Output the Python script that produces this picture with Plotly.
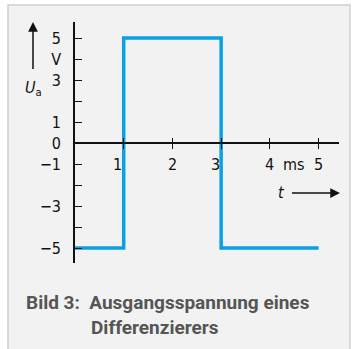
import plotly.graph_objects as go

# Data
t_ms = [0, 1, 3, 5]
u_a = [-5, 5, -5, -5]

x_tickvals = [1, 2, 3, 4, 5]
x_ticktext = ["1", "2", "3", "4", "5"]
x_label_shift = [-6, 0, -6, 0, 0]

y_tickvals = [-5, -3, -1, 0, 1, 3, 4, 5]
y_ticktext = ["\u22125", "\u22123", "\u22121", "0", "1", "3", "V", "5"]
y_minor_step = 1

caption1 = "Bild 3:  Ausgangsspannung eines"
caption2 = "Differenzierers"

BLUE = "#0aa0e2"
TICKFONT = dict(family="DejaVu Sans Condensed, Liberation Sans Narrow, Liberation Sans", size=16, color="#111")

fig = go.Figure()
fig.add_trace(go.Scatter(x=t_ms, y=u_a, mode="lines", line=dict(color=BLUE, width=3.5, shape="hv"),
                         hoverinfo="skip", showlegend=False, xaxis="x", yaxis="y"))

ypos0 = (263 - 143) / 241.0

fig.update_layout(
    width=353, height=349,
    margin=dict(l=75, r=14, t=22, b=86),
    paper_bgcolor="white",
    plot_bgcolor="rgba(0,0,0,0)",
    showlegend=False,
    xaxis=dict(range=[0, 5.42], anchor="free", position=ypos0, showline=True, linecolor="#111", linewidth=1.6,
               tickvals=x_tickvals, showticklabels=False, ticks="outside", ticklen=5, tickwidth=1, tickcolor="#111",
               showgrid=False, zeroline=False, fixedrange=True, automargin=False),
    xaxis2=dict(range=[0, 5.42], overlaying="x", anchor="free", position=ypos0, side="bottom", showline=False,
                tickvals=x_tickvals, showticklabels=False, ticks="inside", ticklen=5, tickwidth=1, tickcolor="#111",
                showgrid=False, zeroline=False, automargin=False),
    yaxis=dict(range=[-5.714, 5.762], showline=True, linecolor="#111", linewidth=1.6,
               tickvals=y_tickvals, ticktext=y_ticktext, ticks="inside", ticklen=7, tickwidth=1, tickcolor="#111",
               minor=dict(ticks="inside", tick0=0, dtick=y_minor_step, ticklen=7, tickwidth=1, tickcolor="#111",
                          showgrid=False),
               tickfont=TICKFONT, ticklabelstandoff=9, showgrid=False, zeroline=False, automargin=False),
)
# dummy trace to activate xaxis2
fig.add_trace(go.Scatter(x=[None], y=[None], xaxis="x2", yaxis="y", showlegend=False))

# background panel
fig.add_shape(type="rect", xref="paper", yref="paper",
              x0=(8 - 75) / 264, x1=(350 - 75) / 264, y0=(263 - 360) / 241, y1=(263 - 5) / 241,
              fillcolor="#f2f2f2", line=dict(color="#cfcfcf", width=1.5), layer="below")

def px(x):
    return (x - 75) / 264.0

def py(y):
    return (263 - y) / 241.0

annotations = []
for v, txt, sh in zip(x_tickvals, x_ticktext, x_label_shift):
    annotations.append(dict(x=v, y=0, xref="x", yref="y", text=txt, showarrow=False, xshift=sh, yshift=-21,
                            xanchor="center", yanchor="middle", font=TICKFONT))
annotations.append(dict(x=4.5, y=0, xref="x", yref="y", text="ms", showarrow=False, xshift=0, yshift=-21,
                        xanchor="center", yanchor="middle", font=TICKFONT))
# U_a label with arrow (text at tail, arrow pointing up)
annotations.append(dict(x=px(33), y=py(22), xref="paper", yref="paper", text="<i>U</i><sub>a</sub>",
                        showarrow=True, ax=0, ay=66, arrowhead=2, arrowsize=1.3, arrowwidth=1.5, arrowcolor="#111",
                        startstandoff=7, font=TICKFONT))
# t label with arrow pointing right
annotations.append(dict(x=px(340), y=py(193), xref="paper", yref="paper", text="<i>t</i>",
                        showarrow=True, ax=-59, ay=0, arrowhead=2, arrowsize=1.3, arrowwidth=1.5, arrowcolor="#111",
                        startstandoff=6, font=TICKFONT))
# caption
CAPFONT = dict(family="Roboto, Liberation Sans", size=19, color="#555")
annotations.append(dict(x=px(24), y=py(302), xref="paper", yref="paper", xanchor="left", yanchor="middle",
                        text="<b>" + caption1 + "</b>", showarrow=False, font=CAPFONT))
annotations.append(dict(x=px(89), y=py(327), xref="paper", yref="paper", xanchor="left", yanchor="middle",
                        text="<b>" + caption2 + "</b>", showarrow=False, font=CAPFONT))
fig.update_layout(annotations=annotations)

fig.write_html("out.html", config={"displayModeBar": False},
               post_script="document.body.style.margin='0px';document.body.style.overflow='hidden';")
